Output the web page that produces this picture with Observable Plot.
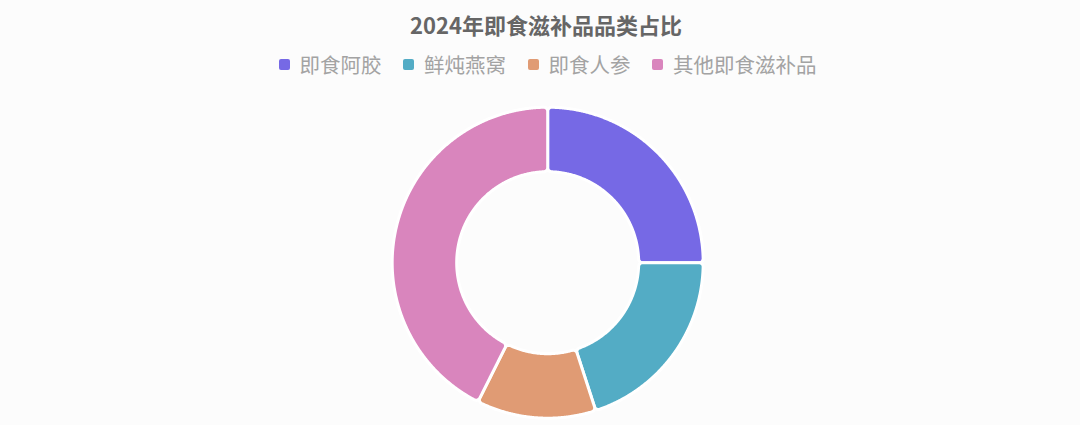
<!DOCTYPE html>
<html>
<head>
<meta charset="utf-8">
<script src="https://cdn.jsdelivr.net/npm/d3@7"></script>
<script src="https://cdn.jsdelivr.net/npm/@observablehq/plot@0.6"></script>
<style>
  html, body { margin: 0; padding: 0; background: #fcfcfc; }
  body { width: 1080px; height: 425px; overflow: hidden; font-family: "Noto Sans CJK SC", "Noto Sans", sans-serif; }
  #head { position: relative; width: 1080px; height: 88px; }
  #title { position: absolute; left: 0; top: 9px; width: 1092px; text-align: center; font-size: 22px; line-height: 30px; font-weight: bold; color: #666666; }
  #legend { position: absolute; left: 0; top: 52px; width: 1095px; display: flex; justify-content: center; gap: 21.5px; font-size: 20.5px; line-height: 24px; color: #a3a3a3; }
  .item { display: flex; align-items: center; }
  .sw { width: 11px; height: 11px; border-radius: 2px; margin-right: 10px; }
  #chart svg { display: block; }
  #tmp { position: absolute; left: -9999px; top: 0; width: 10px; height: 10px; }
</style>
</head>
<body>
<div id="head">
  <div id="title"></div>
  <div id="legend"></div>
</div>
<div id="chart"></div>
<svg id="tmp"></svg>
<script>
const title = "2024年即食滋补品品类占比";
const categories = ["即食阿胶", "鲜炖燕窝", "即食人参", "其他即食滋补品"];
const shares = [25, 20, 12.4, 42.6];
const colors = ["#7669e5", "#53acc5", "#e09b74", "#d985bd"];

document.getElementById("title").textContent = title;
const legend = document.getElementById("legend");
categories.forEach((c, i) => {
  const it = document.createElement("div");
  it.className = "item";
  const sw = document.createElement("div");
  sw.className = "sw";
  sw.style.background = colors[i];
  const tx = document.createElement("span");
  tx.textContent = c;
  it.appendChild(sw); it.appendChild(tx);
  legend.appendChild(it);
});

const outerR = 155.5, innerR = 91;
const table = categories.map((name, i) => ({name, value: shares[i]}));
const arcs = d3.pie().sort(null).value(d => d.value).startAngle(0).endAngle(2 * Math.PI)(table);
const arcGen = d3.arc().innerRadius(innerR).outerRadius(outerR).cornerRadius(4);
const tmp = document.getElementById("tmp");
const pts = [];
for (const a of arcs) {
  const p = document.createElementNS("http://www.w3.org/2000/svg", "path");
  p.setAttribute("d", arcGen(a));
  tmp.appendChild(p);
  const L = p.getTotalLength();
  const n = Math.ceil(L / 0.75);
  for (let k = 0; k < n; k++) {
    const q = p.getPointAtLength(L * k / n);
    pts.push({name: a.data.name, x: q.x, y: -q.y});
  }
}

const W = 1080, H = 337;
const plot = Plot.plot({
  width: W, height: H,
  margin: 0,
  style: {background: "transparent"},
  x: {axis: null, domain: [-547.2, W - 547.2]},
  y: {axis: null, domain: [-(H - 174.2), 174.2]},
  color: {domain: categories, range: colors},
  marks: [
    Plot.line(pts, {x: "x", y: "y", z: "name", fill: "name", stroke: "white", strokeWidth: 3, strokeLinejoin: "round", curve: "linear-closed"})
  ]
});
document.getElementById("chart").appendChild(plot);
</script>
</body>
</html>
